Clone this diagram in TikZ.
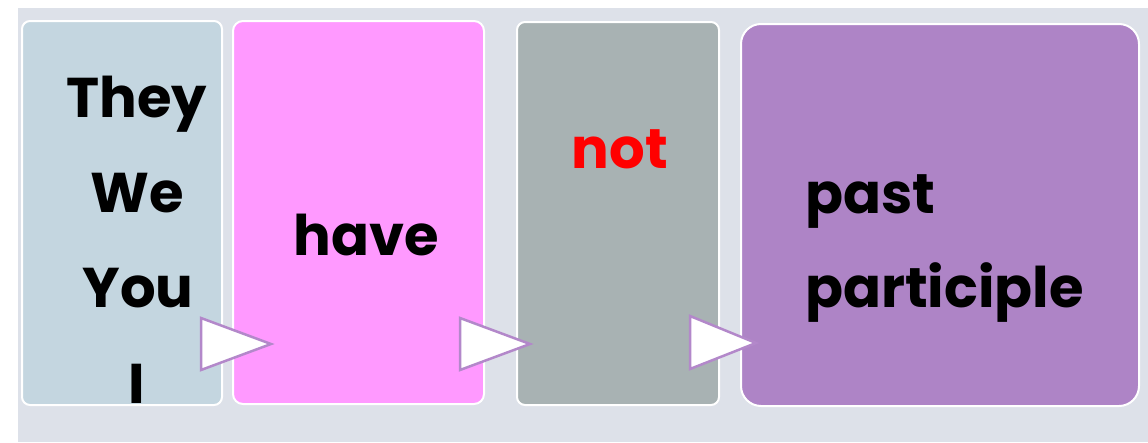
\documentclass[tikz,border=0pt]{standalone}
\usepackage{fontspec}
\setmainfont{Poppins}[BoldFont={* Bold}]
\definecolor{bgc}{HTML}{DDE1E9}
\definecolor{boxa}{HTML}{C4D6E0}
\definecolor{boxb}{HTML}{FF99FF}
\definecolor{boxc}{HTML}{A8B2B3}
\definecolor{boxd}{HTML}{AE84C6}
\definecolor{arrowc}{HTML}{B388CA}
\tikzset{
  panel/.style={draw=white, line width=2pt, rounded corners=#1},
  word/.style={inner sep=0pt, anchor=base, font=\bfseries\fontsize{56}{68}\selectfont},
  wordl/.style={word, anchor=base west},
  proc/.style={fill=white, draw=arrowc, line width=2.5pt, line join=miter}
}
\begin{document}
\begin{tikzpicture}[x=1pt,y=-1pt]
\useasboundingbox (0,0) rectangle (1148,442);
\fill[bgc] (18,8) rectangle (1148,442);
% panels
\filldraw[panel=8pt, fill=boxa] (22,21) rectangle (222,405);
\filldraw[panel=10pt, fill=boxb] (233,21) rectangle (484,404);
\filldraw[panel=8pt, fill=boxc] (517,22) rectangle (719,405);
\filldraw[panel=20pt, fill=boxd] (741,24) rectangle (1139,406);
% texts
\node[word] (they) at (137,117) {They};
\node[word] (we) at (137.5,212) {We};
\node[word] (you) at (138,307) {You};
\node[word] (i) at (137,403) {I};
\node[word] (have) at (366,255) {have};
\node[word, text=red] (not) at (620,168) {not};
\node[wordl] (past) at (805,213) {past};
\node[wordl] (part) at (805,307) {participle};
% process arrows
\draw[proc] (201,318) -- (271,344) -- (201,370) -- cycle;
\draw[proc] (460,318) -- (530,344) -- (460,370) -- cycle;
\draw[proc] (690,316) -- (756,343) -- (690,369) -- cycle;
\end{tikzpicture}
\end{document}
